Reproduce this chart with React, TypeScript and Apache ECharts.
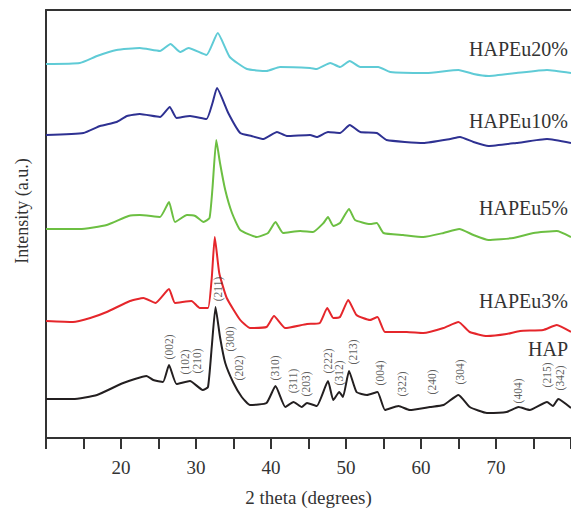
import React, { useEffect, useRef } from "react";
import * as echarts from "echarts";

// X-ray diffraction patterns (2θ in degrees, intensity in arbitrary units, stacked)
const hapTheta = [10, 13.6, 16.8, 20.3, 23.4, 24.3, 25.6, 26.4, 27.4, 29.2, 30.9, 31.6, 32.1, 32.6, 33.2, 33.9, 35, 36.1, 37.2, 39.4, 40.6, 41.9, 43, 44.1, 44.8, 46.1, 47.6, 48.3, 49.1, 49.6, 50.4, 51.4, 52.8, 54.2, 55.2, 57, 58.5, 61.2, 63, 65, 66.5, 68.8, 71.4, 73, 74.5, 76.8, 77.6, 78.3, 80];
const hapI = [39, 39, 43, 55, 62, 58, 56, 73, 54, 57, 48, 51, 91, 131, 101, 75, 55, 41, 33, 35, 52, 31, 36, 31, 35, 32, 57, 38, 46, 41, 67, 46, 43, 46, 28, 32, 28, 31, 33, 43, 31, 25, 26, 31, 28, 36, 32, 39, 30];

const eu3Theta = [10, 13.6, 15.9, 18.1, 21.2, 23, 24.6, 26.4, 27.2, 29.4, 30.5, 31.6, 32.1, 32.5, 33.1, 34.1, 35.9, 37.2, 39.4, 40.4, 41.9, 44.8, 46.5, 47.5, 48.3, 49.2, 50.3, 51.4, 53.2, 54.2, 55.2, 58.1, 60.3, 63, 65, 66.5, 68.8, 71.4, 73.2, 76.3, 78.1, 80];
const eu3I = [117, 116, 120, 126, 137, 140, 135, 149, 135, 137, 130, 130, 160, 201, 165, 140, 118, 110, 111, 122, 110, 114, 115, 130, 120, 121, 138, 123, 118, 121, 106, 106, 105, 110, 116, 106, 102, 104, 107, 108, 113, 106];

const eu5Theta = [10, 14.5, 18.1, 21, 22.5, 25.2, 26.4, 27.2, 28.8, 29.9, 31, 31.8, 32.2, 32.7, 33.2, 33.9, 34.8, 35.9, 38.1, 39.6, 40.6, 41.6, 43.9, 45.6, 47, 47.6, 48.3, 49.2, 50.4, 51.2, 53.2, 54.1, 55, 57.6, 60.3, 63, 65.1, 67, 69, 72.3, 75, 78.1, 80];
const eu5I = [209, 209, 213, 222, 223, 221, 236, 216, 223, 222, 216, 220, 250, 298, 275, 248, 225, 208, 201, 205, 216, 205, 207, 206, 215, 221, 212, 215, 229, 218, 214, 215, 205, 203, 201, 205, 209, 203, 198, 200, 205, 207, 201];

const eu10Theta = [10, 15, 17.2, 19.4, 20.8, 22.5, 25.2, 26.5, 27.4, 29.2, 31.4, 32.2, 32.8, 34.3, 35.9, 37.4, 39, 40.8, 42.1, 45.2, 46.1, 47.6, 49.2, 50.5, 51.9, 54.1, 55.4, 60.3, 63.9, 65.2, 67, 69, 72.7, 76.8, 80];
const eu10I = [303, 305, 312, 316, 322, 324, 321, 331, 320, 322, 319, 335, 350, 325, 305, 302, 299, 306, 302, 303, 301, 306, 305, 313, 306, 305, 298, 295, 299, 301, 296, 292, 295, 299, 295];

const eu20Theta = [10, 14.5, 16.8, 19.4, 22.5, 25.2, 26.6, 27.9, 29, 31.4, 32.9, 34.5, 36.8, 39.4, 41.2, 45.2, 46.1, 47.9, 49.2, 50.5, 51.9, 54.3, 55.9, 60.7, 65, 67, 69, 72.7, 76.8, 80];
const eu20I = [374, 375, 382, 388, 390, 387, 394, 386, 390, 383, 405, 381, 369, 367, 371, 370, 369, 375, 371, 377, 371, 371, 366, 365, 368, 364, 362, 365, 368, 365];

const seriesNames = ["HAP", "HAPEu3%", "HAPEu5%", "HAPEu10%", "HAPEu20%"];
const seriesColors = ["#231f20", "#e5262b", "#6cbf42", "#2e3192", "#5fcbd6"];

// Miller indices of HAP reflections and where their labels sit
const hklLabels = ["(002)", "(102)", "(210)", "(211)", "(300)", "(202)", "(310)", "(311)", "(203)", "(222)", "(312)", "(213)", "(004)", "(322)", "(240)", "(304)", "(404)", "(215)", "(342)"];
const hklTheta = [26.44, 28.53, 30.09, 32.97, 34.53, 35.77, 40.53, 42.97, 44.67, 47.56, 49.11, 50.97, 54.53, 57.43, 61.43, 65.2, 72.97, 76.76, 78.53];
const hklPos = [91, 76, 77, 149, 99, 70, 70, 57, 54, 77, 65, 86, 65, 54, 56, 66, 47, 63, 60];

const xTickLabels = [20, 30, 40, 50, 60, 70];

const SERIF = "'Liberation Serif', 'DejaVu Serif', serif";

export default function App() {
  const ref = useRef<HTMLDivElement>(null);
  useEffect(() => {
    if (!ref.current) return;
    const chart = echarts.init(ref.current, undefined, { renderer: "svg" });
    const thetas = [hapTheta, eu3Theta, eu5Theta, eu10Theta, eu20Theta];
    const vals = [hapI, eu3I, eu5I, eu10I, eu20I];
    const lineSeries = seriesNames.map((name, k) => ({
      name,
      type: "line",
      data: thetas[k].map((t, i) => [t, vals[k][i]]),
      showSymbol: false,
      smooth: 0.15,
      lineStyle: { color: seriesColors[k], width: 2 },
      itemStyle: { color: seriesColors[k] },
      z: 2,
    }));
    const labelY = [350, 302, 209, 122, 50];
    chart.setOption({
      animation: false,
      grid: { left: 46, right: 0, top: 10, bottom: 72, outerBoundsMode: "none", containLabel: false },
      xAxis: [
        {
          type: "value",
          min: 10,
          max: 80,
          interval: 5,
          name: "2 theta (degrees)",
          nameLocation: "middle",
          nameGap: 50,
          nameTextStyle: { fontFamily: SERIF, fontSize: 19, color: "#333" },
          axisLine: { show: true, onZero: false, lineStyle: { color: "#333", width: 2 } },
          axisTick: { show: true, inside: false, length: 11, lineStyle: { color: "#333", width: 2 } },
          axisLabel: {
            margin: 20,
            fontFamily: SERIF,
            fontSize: 19,
            color: "#333",
            formatter: (v: number) => (xTickLabels.includes(v) ? String(v) : ""),
          },
          splitLine: { show: false },
        },
        {
          type: "value",
          position: "top",
          min: 10,
          max: 80,
          axisLine: { show: true, onZero: false, lineStyle: { color: "#333", width: 2 } },
          axisTick: { show: false },
          axisLabel: { show: false },
          splitLine: { show: false },
        },
      ],
      yAxis: {
        type: "value",
        min: 0,
        max: 428,
        axisLine: { show: true, onZero: false, lineStyle: { color: "#333", width: 2 } },
        axisTick: { show: false },
        axisLabel: { show: false },
        splitLine: { show: false },
      },
      series: [
        ...lineSeries,
        {
          name: "hkl",
          type: "scatter",
          symbolSize: 0,
          data: hklLabels.map((n, i) => ({ name: n, value: [hklTheta[i], hklPos[i]] })),
          label: {
            show: true,
            position: "inside",
            rotate: 90,
            formatter: (p: any) => p.name,
            fontFamily: SERIF,
            fontSize: 11.5,
            color: "#333",
          },
          z: 3,
        },
      ],
      graphic: [
        {
          type: "text",
          x: 22,
          y: 211,
          rotation: Math.PI / 2,
          style: {
            text: "Intensity (a.u.)",
            font: `18px ${SERIF}`,
            fill: "#333",
            align: "center",
            verticalAlign: "middle",
          },
        },
        ...seriesNames.map((n, k) => ({
          type: "text",
          right: 3,
          top: labelY[k] - 11,
          style: {
            text: n,
            font: `20px ${SERIF}`,
            fill: "#333",
          },
        })),
      ],
    });
    return () => chart.dispose();
  }, []);
  return (
    <div
      ref={ref}
      style={{ position: "absolute", left: 0, top: 0, width: 571, height: 510 }}
    />
  );
}
